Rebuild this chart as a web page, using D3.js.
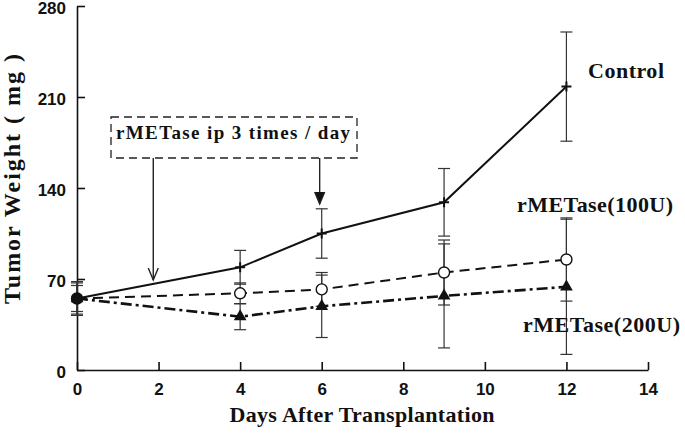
<!DOCTYPE html>
<html>
<head>
<meta charset="utf-8">
<script src="https://cdn.jsdelivr.net/npm/d3@7"></script>
<style>
	body { margin: 0; background: #fff; }
</style>
</head>
<body>
<div id="chart"></div>
<script>
// data
var days = [0, 4, 6, 9, 12];
var control = [55, 79, 105, 129, 218];
var controlErr = [13, 13, 19, 26, 42];
var r100 = [55, 59, 62, 75, 85];
var r100Err = [10, 8, 13, 25, 32];
var r200 = [55, 41, 49, 57, 64];
var r200Err = [12, 10, 24, 40, 52];
var xTicks = [0, 2, 4, 6, 8, 10, 12, 14];
var yTicks = [0, 70, 140, 210, 280];
var arrowDays = [1.87, 5.95];

drawchart()

function drawchart() {
	var svg = d3.select("#chart")
		.append("svg")
		.attr("width", 685)
		.attr("height", 435);

	var x = d3.scaleLinear().domain([0, 14]).range([77, 648]);
	var y = d3.scaleLinear().domain([0, 280]).range([370, 6]);

	// axes, ticks pointing inward
	var xAxis = svg.append("g")
		.attr("transform", `translate(0,${y(0)})`)
		.call(d3.axisBottom(x).tickValues(xTicks).tickSize(-8).tickSizeOuter(0).tickPadding(9));
	var yAxis = svg.append("g")
		.attr("transform", `translate(${x(0)},0)`)
		.call(d3.axisLeft(y).tickValues(yTicks).tickSize(-8).tickSizeOuter(0).tickPadding(11));

	svg.selectAll(".domain, .tick line")
		.attr("stroke", "#111")
		.attr("stroke-width", 1.6);
	svg.selectAll(".tick text")
		.style("font-family", "Liberation Sans, Arial, sans-serif")
		.style("font-weight", "bold")
		.style("font-size", "17px")
		.attr("fill", "#111");
	xAxis.selectAll(".tick text").attr("dy", "0.95em");
	yAxis.selectAll(".tick text").attr("dy", "0.45em");

	// titles
	svg.append("text")
		.attr("x", 362)
		.attr("y", 422)
		.attr("text-anchor", "middle")
		.attr("class", "title")
		.attr("textLength", 265)
		.attr("lengthAdjust", "spacing")
		.style("font-size", "22px")
		.text("Days After Transplantation");
	svg.append("text")
		.attr("transform", `translate(20,${179}) rotate(-90)`)
		.attr("text-anchor", "middle")
		.attr("class", "title")
		.attr("textLength", 250)
		.attr("lengthAdjust", "spacing")
		.style("font-size", "24px")
		.text("Tumor Weight ( mg )");
	svg.selectAll(".title")
		.style("font-family", "Liberation Serif, Times New Roman, serif")
		.style("font-weight", "bold")
		.attr("fill", "#111");

	var series = [
		{ name: "Control", v: control, e: controlErr, dash: null, w: 2 },
		{ name: "rMETase(100U)", v: r100, e: r100Err, dash: "10,6", w: 2 },
		{ name: "rMETase(200U)", v: r200, e: r200Err, dash: "11,4,3,4", w: 2.6 }
	];

	// error bars
	series.forEach(function(s) {
		var g = svg.append("g").attr("stroke", "#333").attr("stroke-width", 1.2);
		days.forEach(function(d, i) {
			var lo = y(s.v[i] - s.e[i]), hi = y(s.v[i] + s.e[i]), cx = x(d);
			g.append("line").attr("x1", cx).attr("x2", cx).attr("y1", lo).attr("y2", hi);
			g.append("line").attr("x1", cx - 6).attr("x2", cx + 6).attr("y1", lo).attr("y2", lo);
			g.append("line").attr("x1", cx - 6).attr("x2", cx + 6).attr("y1", hi).attr("y2", hi);
		});
	});

	// lines
	var line = d3.line()
		.x(function(d, i) { return x(days[i]); })
		.y(function(d) { return y(d); });
	series.forEach(function(s) {
		svg.append("path")
			.datum(s.v)
			.attr("d", line)
			.attr("fill", "none")
			.attr("stroke", "#111")
			.attr("stroke-width", s.w)
			.attr("stroke-dasharray", s.dash);
	});

	// markers
	svg.selectAll(".plus")
		.data(control)
		.join("path")
		.attr("d", function(d, i) {
			var cx = x(days[i]), cy = y(d);
			return `M${cx - 5},${cy}H${cx + 5}M${cx},${cy - 5}V${cy + 5}`;
		})
		.attr("stroke", "#111")
		.attr("stroke-width", 2);
	svg.selectAll(".circ")
		.data(r100)
		.join("circle")
		.attr("cx", function(d, i) { return x(days[i]); })
		.attr("cy", function(d) { return y(d); })
		.attr("r", 5.5)
		.attr("fill", "#fff")
		.attr("stroke", "#111")
		.attr("stroke-width", 1.4);
	svg.selectAll(".tri")
		.data(r200)
		.join("path")
		.attr("transform", function(d, i) { return `translate(${x(days[i])},${y(d)})`; })
		.attr("d", d3.symbol().type(d3.symbolTriangle).size(70))
		.attr("fill", "#111");
	// day 0 points overlap into a filled dot
	svg.append("circle")
		.attr("cx", x(0))
		.attr("cy", y(r200[0]))
		.attr("r", 5.5)
		.attr("fill", "#111");

	// series labels
	var labels = [
		{ t: "Control", x: 588, y: 78, w: 76 },
		{ t: "rMETase(100U)", x: 517, y: 212, w: 156 },
		{ t: "rMETase(200U)", x: 523, y: 332, w: 157 }
	];
	svg.selectAll(".lab")
		.data(labels)
		.join("text")
		.attr("x", function(d) { return d.x; })
		.attr("y", function(d) { return d.y; })
		.attr("textLength", function(d) { return d.w; })
		.attr("lengthAdjust", "spacing")
		.text(function(d) { return d.t; })
		.style("font-family", "Liberation Serif, Times New Roman, serif")
		.style("font-weight", "bold")
		.style("font-size", "22px")
		.attr("fill", "#111");

	// dosing annotation box with arrows
	var box = svg.append("g");
	box.append("rect")
		.attr("x", 111)
		.attr("y", 117)
		.attr("width", 246)
		.attr("height", 41)
		.attr("fill", "none")
		.attr("stroke", "#222")
		.attr("stroke-width", 1.3)
		.attr("stroke-dasharray", "8,5");
	box.append("text")
		.attr("x", 116)
		.attr("y", 139)
		.attr("textLength", 234)
		.attr("lengthAdjust", "spacing")
		.text("rMETase ip 3 times / day")
		.style("font-family", "Liberation Serif, Times New Roman, serif")
		.style("font-weight", "bold")
		.style("font-size", "19px")
		.attr("fill", "#111");

	var tips = [280, 204];
	arrowDays.forEach(function(d, i) {
		var ax = x(d), tip = tips[i];
		box.append("line")
			.attr("x1", ax).attr("x2", ax)
			.attr("y1", 158).attr("y2", tip)
			.attr("stroke", "#222").attr("stroke-width", 1.4);
		box.append("path")
			.attr("d", `M${ax - 5},${tip - 12}L${ax},${tip}L${ax + 5},${tip - 12}`)
			.attr("fill", i == 1 ? "#111" : "none")
			.attr("stroke", "#222")
			.attr("stroke-width", 1.4);
	});
}
</script>
</body>
</html>
